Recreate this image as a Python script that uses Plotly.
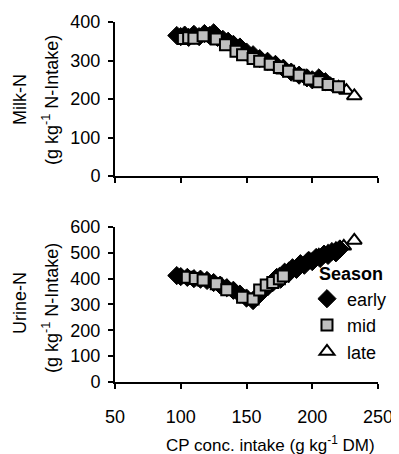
import plotly.graph_objects as go

# ---------------- data ----------------
milk_early_x = [97, 100, 103, 106, 110, 114, 118, 122, 125, 128, 132, 136, 140, 145, 150, 155, 160, 166, 172, 178, 184, 190, 196, 200, 205, 210]
milk_early_y = [365, 362, 366, 360, 368, 362, 370, 365, 372, 360, 355, 350, 342, 335, 322, 315, 305, 298, 290, 280, 270, 262, 255, 250, 255, 245]
milk_mid_x = [102, 106, 110, 117, 127, 134, 142, 147, 155, 160, 168, 175, 182, 190, 198, 205, 212, 220]
milk_mid_y = [357, 359, 358, 364, 356, 341, 324, 315, 305, 298, 290, 282, 272, 262, 252, 245, 238, 232]
milk_late_x = [170, 178, 185, 190, 196, 202, 208, 214, 220, 226, 232]
milk_late_y = [285, 275, 268, 262, 255, 248, 243, 238, 230, 222, 208]

urine_early_x = [97, 100, 105, 110, 115, 120, 125, 130, 135, 140, 145, 150, 155, 158, 162, 166, 170, 173, 176, 179, 182, 185, 188, 191, 194, 197, 200, 203, 206, 209, 212, 215, 218, 221]
urine_early_y = [412, 408, 405, 400, 398, 393, 385, 375, 365, 355, 340, 325, 315, 330, 350, 368, 385, 405, 398, 425, 420, 442, 436, 458, 452, 470, 466, 482, 478, 495, 490, 505, 500, 515]
urine_mid_x = [105, 111, 117, 127, 135, 147, 155, 160, 165, 170, 175, 178]
urine_mid_y = [405, 401, 395, 380, 357, 328, 321, 356, 375, 385, 400, 410]
urine_late_x = [175, 182, 190, 198, 205, 212, 218, 224, 232]
urine_late_y = [415, 435, 455, 475, 490, 505, 515, 525, 548]

seasons = ["early", "mid", "late"]
x_ticks = [50, 100, 150, 200, 250]

FONT = "Liberation Sans, Arial, sans-serif"
FS = 18

styles = {
    "early": dict(symbol="diamond", size=14, color="black", line=dict(color="black", width=1)),
    "mid": dict(symbol="square", size=11, color="#c0c0c0", line=dict(color="black", width=2)),
    "late": dict(symbol="triangle-up", size=13, color="white", line=dict(color="black", width=2)),
}
ranks = {"early": 1, "mid": 2, "late": 3}

fig = go.Figure()
panels = [
    ("x", "y", {"early": (milk_early_x, milk_early_y), "mid": (milk_mid_x, milk_mid_y), "late": (milk_late_x, milk_late_y)}, False),
    ("x2", "y2", {"early": (urine_early_x, urine_early_y), "mid": (urine_mid_x, urine_mid_y), "late": (urine_late_x, urine_late_y)}, True),
]
for xa, ya, d, show in panels:
    for s in ["late", "early", "mid"]:
        xs, ys = d[s]
        fig.add_trace(go.Scatter(x=xs, y=ys, mode="markers", name=s, marker=styles[s],
                                 xaxis=xa, yaxis=ya, showlegend=show, legendrank=ranks[s]))

axis_common = dict(showline=True, linecolor="black", linewidth=2, ticks="outside",
                   ticklen=5, tickwidth=2, tickcolor="black", showgrid=False, zeroline=False,
                   tickfont=dict(family=FONT, size=FS, color="black"))

# page body has an 8px margin: figure is offset by 8px in the window
OFF = 8
W, H = 399 - OFF, 454 - OFF
L, R, T, B = 115 - OFF, 21, 22 - OFF, 72

fig.update_layout(
    width=W, height=H,
    margin=dict(l=L, r=R, t=T, b=B, autoexpand=False),
    paper_bgcolor="white", plot_bgcolor="white",
    font=dict(family=FONT, size=FS, color="black"),
    xaxis=dict(domain=[0, 1], range=[50, 250], tickvals=x_ticks, showticklabels=False, anchor="y", **axis_common),
    yaxis=dict(domain=[0.572, 1], range=[0, 400], dtick=100, anchor="x", ticklabelstandoff=4, **axis_common),
    xaxis2=dict(domain=[0, 1], range=[50, 250], tickvals=x_ticks, anchor="y2", ticklabelstandoff=12, **axis_common),
    yaxis2=dict(domain=[0, 0.4306], range=[0, 600], dtick=100, anchor="x2", ticklabelstandoff=4, **axis_common),
    legend=dict(x=0.73, y=0.347, xanchor="left", yanchor="top",
                title=dict(text="\u00a0\u00a0<b>Season</b>", font=dict(size=FS)),
                font=dict(size=FS), bgcolor="rgba(0,0,0,0)", tracegroupgap=0, itemwidth=30),
    showlegend=True,
)

# annotation positions in window pixels
ann = [
    dict(text="Milk-N", x=20, y=100, textangle=-90, size=FS),
    dict(text="(g kg<sup>-1</sup> N-Intake)", x=50, y=100, textangle=-90, size=FS),
    dict(text="Urine-N", x=20, y=303, textangle=-90, size=FS),
    dict(text="(g kg<sup>-1</sup> N-Intake)", x=50, y=308, textangle=-90, size=FS),
    dict(text="CP conc. intake (g kg<sup>-1</sup> DM)", x=270, y=444, textangle=0, size=17),
]
for a in ann:
    fx = a["x"] - OFF
    fy = a["y"] - OFF
    fig.add_annotation(text=a["text"], x=(fx - L) / (W - L - R), y=(H - B - fy) / (H - T - B),
                       xref="paper", yref="paper",
                       xanchor="center", yanchor="middle", textangle=a["textangle"], showarrow=False,
                       font=dict(family=FONT, size=a["size"], color="black"))

fig.write_html("out.html")
